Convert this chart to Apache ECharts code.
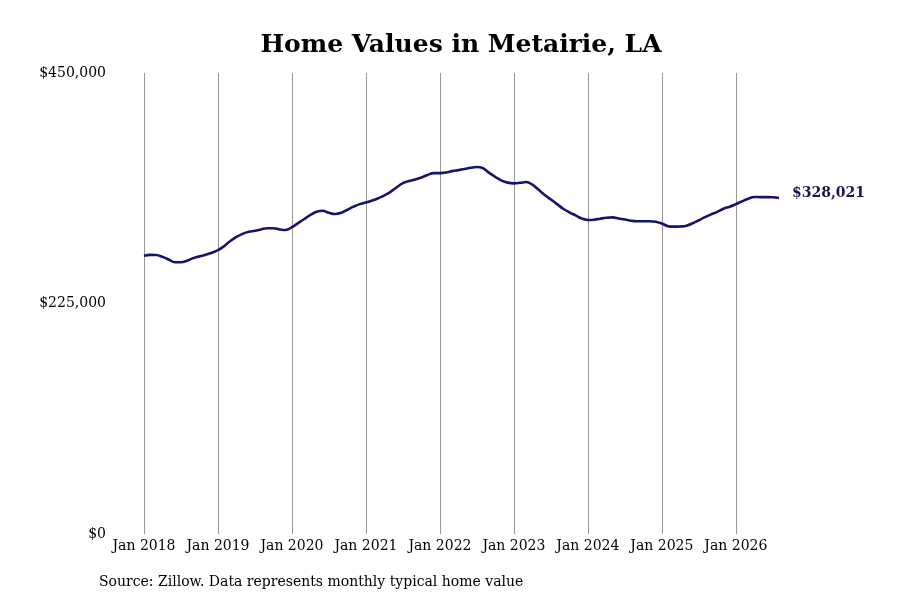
<!DOCTYPE html>
<html>
<head>
<meta charset="utf-8">
<script src="https://cdn.jsdelivr.net/npm/echarts@6/dist/echarts.min.js"></script>
<style>html,body{margin:0;padding:0;background:#fff;}#c{width:900px;height:600px;}</style>
</head>
<body>
<div id="c"></div>
<script>
const startYear = 2018;
const yearLabels = ['Jan 2018','Jan 2019','Jan 2020','Jan 2021','Jan 2022','Jan 2023','Jan 2024','Jan 2025','Jan 2026'];
const yTicks = [0, 225000, 450000];
const values = [
  271500, 272500, 272300, 270500, 268000, 265300, 265200, 266800, 269300, 271000, 272500, 274500,
  277000, 281000, 286000, 290000, 293000, 295000, 296000, 297300, 298500, 298500, 297300, 296800,
  299500, 303500, 307500, 311500, 314500, 315500, 313500, 312400, 313500, 316500, 319500, 322000,
  323500, 325500, 327800, 330500, 334000, 338500, 342500, 344500, 346000, 348000, 350500, 352300,
  352300, 352800, 354200, 355200, 356300, 357500, 358300, 357000, 352500, 348500, 345000, 343000,
  342300, 342800, 343600, 341000, 336000, 331000, 326500, 322000, 317500, 314000, 311000, 308000,
  306500, 306800, 307800, 308700, 309100, 308000, 307000, 305800, 305300, 305300, 305300, 304800,
  303000, 300500, 300000, 300200, 301000, 303300, 306300, 309300, 312000, 314500, 317500, 319500,
  322000, 324700, 327200, 329000, 328800, 328800, 328700, 328021
];
const monthNames = ['Jan','Feb','Mar','Apr','May','Jun','Jul','Aug','Sep','Oct','Nov','Dec'];
const categories = values.map((v, i) => monthNames[i % 12] + ' ' + (startYear + Math.floor(i / 12)));
const fmt = v => '$' + Math.round(v).toLocaleString('en-US');
const FONT = 'DejaVu Serif';

const chart = echarts.init(document.getElementById('c'));
chart.setOption({
  animation: false,
  backgroundColor: '#fff',
  title: {
    text: 'Home Values in Metairie, LA',
    left: 456, top: 28, textAlign: 'center',
    textStyle: { fontFamily: FONT, fontWeight: 'bold', fontSize: 25, color: '#000' }
  },
  grid: { left: 144, right: 121, top: 73, bottom: 66, containLabel: false },
  xAxis: {
    type: 'category',
    data: categories,
    boundaryGap: false,
    axisLine: { show: false },
    axisTick: { show: false },
    axisLabel: {
      interval: (i) => i % 12 === 0,
      formatter: (v) => yearLabels.indexOf(v) >= 0 ? v : '',
      fontFamily: FONT, fontSize: 14, color: '#000', margin: 5
    },
    splitLine: { show: true, interval: (i) => i % 12 === 0, lineStyle: { color: '#999', width: 1 } }
  },
  yAxis: {
    type: 'value',
    min: yTicks[0], max: yTicks[2], interval: yTicks[1],
    axisLine: { show: false },
    axisTick: { show: false },
    splitLine: { show: false },
    axisLabel: { formatter: fmt, fontFamily: FONT, fontSize: 14, color: '#000', margin: 38 }
  },
  series: [{
    type: 'line',
    data: values,
    symbol: 'none',
    smooth: 0.4,
    lineStyle: { color: '#15156b', width: 2.6 },
    endLabel: {
      show: true,
      formatter: (p) => fmt(p.value),
      fontFamily: FONT, fontWeight: 'bold', fontSize: 14, color: '#15154f',
      distance: 13, offset: [0, -5]
    }
  }],
  graphic: [{
    type: 'text', left: 99, top: 575,
    style: { text: 'Source: Zillow. Data represents monthly typical home value', font: '14px "DejaVu Serif"', fill: '#000' }
  }]
});
</script>
</body>
</html>
